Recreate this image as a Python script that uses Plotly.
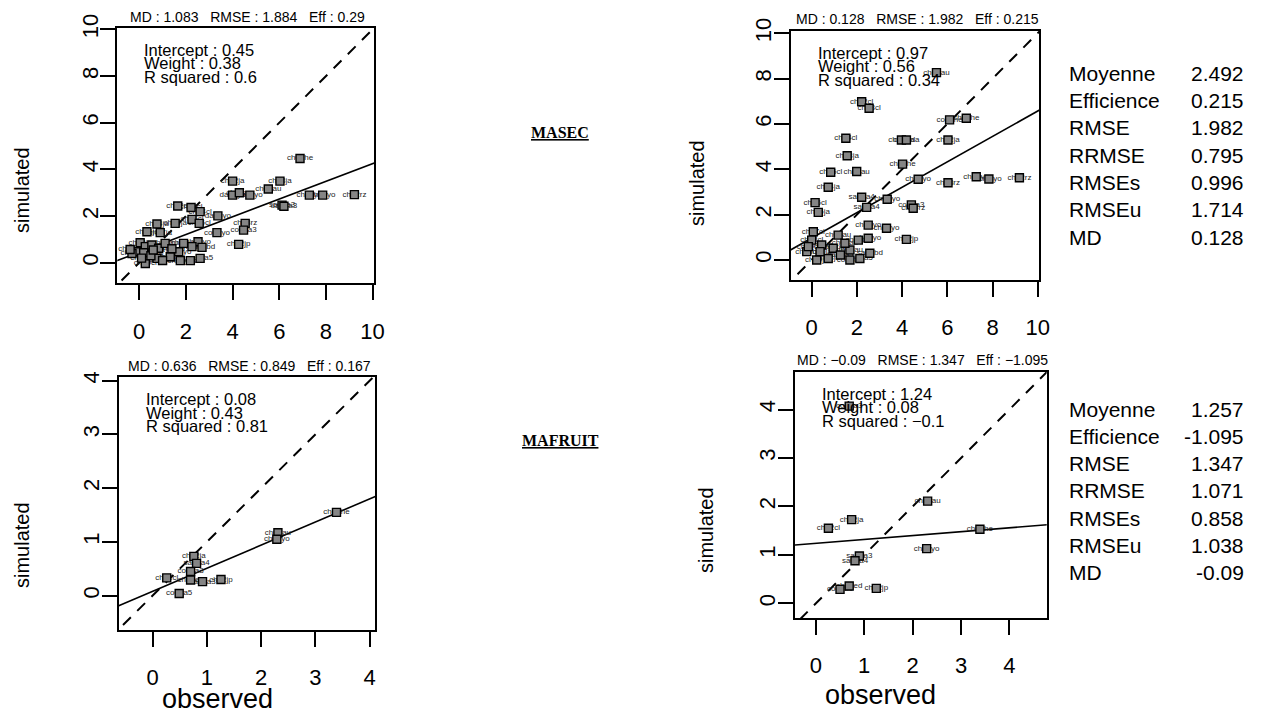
import plotly.graph_objects as go

W, H = 1263, 715
OFF = 8                      # page body margin of the browser
FW, FH = W - OFF, H - OFF    # figure size actually visible

# ---------------- data ----------------
# Panel A : MASEC, first model
p1_obs = [6.89, 4.00, 6.03, 5.53, 4.00, 4.29, 4.74, 7.29, 7.86, 9.22, 6.12, 6.20,
          1.65, 2.22, 2.61, 2.26, 2.57, 3.37, 0.76, 1.54, 0.33, 0.90, 3.33, 4.54, 4.47, 4.26,
          0.04, 0.26, -0.10, 0.19, 0.54, 0.83, 1.11, 0.76, 0.26, 1.90, 2.52, 2.69, 1.69,
          1.76, 2.19, 2.61, 1.33, -0.31, -0.39, 2.26, 0.50, 1.00, 0.10, 1.40, 0.60]
p1_sim = [4.47, 3.50, 3.50, 3.16, 2.90, 3.00, 2.90, 2.90, 2.90, 2.92, 2.47, 2.42,
          2.43, 2.37, 2.19, 1.86, 1.69, 2.01, 1.66, 1.69, 1.33, 1.29, 1.29, 1.69, 1.40, 0.79,
          0.86, 0.69, 0.47, 0.43, 0.76, 0.62, 0.83, 0.19, -0.03, 0.83, 0.90, 0.66, 0.47,
          0.09, 0.09, 0.19, 0.26, 0.40, 0.57, 0.69, 0.30, 0.10, 0.20, 0.60, 0.55]
p1_lab = ["ch02he", "ch02ja", "ch03ja", "ch02au", "da02yo", "ch03au", "ch02yo", "ch04yo", "ch03yo", "ch02rz", "sa02a3", "da03a3",
          "ch02cl", "ch03cl", "ch04cl", "ch05cl", "ch06cl", "da04yo", "ch04ja", "ch05ja", "ch06ja", "ch07ja", "co02yo", "ch03rz", "co02a3", "ch02jp",
          "ch08ja", "ch09ja", "ch07cl", "ch08cl", "ch05au", "ch06au", "ch07au", "co02a5", "ch09cl", "ch05yo", "ch06yo", "sa02bd", "ch07yo",
          "ch08yo", "co03a5", "sa02a5", "ch08au", "ch10cl", "ch10ja", "ch09yo", "co04a5", "sa03a5", "ch11cl", "ch09au", "ch11ja"]

# Panel B : MASEC, second model
p2_obs = [5.52, 2.21, 2.54, 6.10, 6.84, 1.51, 3.97, 4.19, 6.03, 1.57, 4.02, 0.84, 1.99, 4.71, 6.03,
          7.28, 7.84, 9.19, 0.73, 2.21, 2.43, 3.34, 4.41, 4.49, 0.15, 0.29, 4.19,
          2.50, 3.31, 2.50, 2.06, 1.17, 0.07, 0.00, 0.44, 0.95, 1.69, 2.57, 2.13, 1.69, 0.73,
          0.22, -0.22, -0.15, 0.37, 1.47, 1.27]
p2_sim = [8.26, 6.98, 6.69, 6.18, 6.25, 5.37, 5.29, 5.29, 5.29, 4.60, 4.23, 3.87, 3.90, 3.56, 3.41,
          3.67, 3.57, 3.63, 3.21, 2.77, 2.32, 2.68, 2.43, 2.28, 2.53, 2.10, 0.91,
          1.54, 1.40, 0.96, 0.88, 1.10, 1.25, 0.88, 0.66, 0.52, 0.44, 0.30, 0.07, 0.00, 0.07,
          0.00, 0.37, 0.59, 0.37, 0.74, 0.22]
p2_lab = ["ch02au", "ch02cl", "ch03cl", "co02he", "ch02he", "ch04cl", "ch02da", "ch03da", "ch02ja", "ch03ja", "ch03he", "ch05cl", "ch03au", "ch02yo", "ch03rz",
          "ch04yo", "ch03yo", "ch02rz", "ch04ja", "sa02a4", "sa03a4", "ch05yo", "co02a3", "ch04rz", "ch06cl", "ch05ja", "ch02jp",
          "ch06yo", "ch07yo", "ch08yo", "ch04au", "ch05au", "ch07cl", "ch08cl", "ch06ja", "ch07ja", "ch06au", "sa02bd", "co02a5", "co03a5", "ch08ja",
          "ch09ja", "ch09cl", "ch10cl", "ch10ja", "ch07au", "sa03a5"]

# Panel C : MAFRUIT, first model
p3_obs = [3.39, 2.31, 2.29, 0.76, 0.81, 0.70, 0.26, 0.70, 0.92, 1.26, 0.49]
p3_sim = [1.55, 1.17, 1.05, 0.73, 0.60, 0.45, 0.33, 0.29, 0.26, 0.30, 0.04]
p3_lab = ["ch02he", "ch02au", "ch02yo", "ch02ja", "sa02a4", "co02a3", "ch02cl", "ch02ed", "sa02a3", "ch02jp", "co02a5"]

# Panel D : MAFRUIT, second model
p4_obs = [0.69, 2.31, 0.74, 0.26, 3.39, 2.29, 0.90, 0.81, 0.50, 0.69, 1.25]
p4_sim = [4.07, 2.11, 1.73, 1.55, 1.53, 1.13, 0.98, 0.88, 0.29, 0.36, 0.31]
p4_lab = ["co02a3", "ch02au", "ch02ja", "ch02cl", "ch02he", "ch02yo", "sa02a3", "sa02a4", "co02a5", "ch02ed", "ch02jp"]

# regression (intercept, weight, R squared) and headline statistics
reg_intercept = [0.45, 0.97, 0.08, 1.24]
reg_weight = [0.38, 0.56, 0.43, 0.08]
reg_r2 = ["0.6", "0.34", "0.81", "\u22120.1"]
head_md = ["1.083", "0.128", "0.636", "\u22120.09"]
head_rmse = ["1.884", "1.982", "0.849", "1.347"]
head_eff = ["0.29", "0.215", "0.167", "\u22121.095"]

ticks_big = [0, 2, 4, 6, 8, 10]
ticks_small = [0, 1, 2, 3, 4]

stat_names = ["Moyenne", "Efficience", "RMSE", "RRMSE", "RMSEs", "RMSEu", "MD"]
stat_masec = ["2.492", "0.215", "1.982", "0.795", "0.996", "1.714", "0.128"]
stat_mafruit = ["1.257", "-1.095", "1.347", "1.071", "0.858", "1.038", "-0.09"]

groups = ["MASEC", "MAFRUIT"]

# ---------------- layout helpers (page pixels -> paper fractions) ----------------
def PX(x):
    return (x - OFF) / FW

def PY(y):
    return 1 - (y - OFF) / FH

panels = [
    dict(obs=p1_obs, sim=p1_sim, lab=p1_lab, box=(117.3, 374.0, 28.0, 283.3),
         xr=[-0.94, 10.06], yr=[-0.88, 10.06], ticks=ticks_big),
    dict(obs=p2_obs, sim=p2_sim, lab=p2_lab, box=(790.7, 1039.3, 30.7, 280.0),
         xr=[-0.93, 10.07], yr=[-0.88, 10.11], ticks=ticks_big),
    dict(obs=p3_obs, sim=p3_sim, lab=p3_lab, box=(119.0, 375.0, 377.0, 630.0),
         xr=[-0.62, 4.10], yr=[-0.64, 4.07], ticks=ticks_small),
    dict(obs=p4_obs, sim=p4_sim, lab=p4_lab, box=(795.0, 1046.7, 371.7, 618.0),
         xr=[-0.43, 4.77], yr=[-0.30, 4.78], ticks=ticks_small),
]

FONT = "Liberation Sans, Arial, Helvetica, sans-serif"
fig = go.Figure()
layout = dict(
    width=FW, height=FH, autosize=False,
    margin=dict(l=0, r=0, t=0, b=0, pad=0, autoexpand=False),
    paper_bgcolor="white", plot_bgcolor="white", showlegend=False,
    font=dict(family=FONT, color="black"),
)
annotations = []

for i, p in enumerate(panels):
    n = "" if i == 0 else str(i + 1)
    xa, ya = "x" + n, "y" + n
    x0, x1, y0, y1 = p["box"]
    axis_common = dict(
        showgrid=False, zeroline=False, showline=True, mirror=True, automargin=False,
        linecolor="black", linewidth=2, ticks="outside", ticklen=15,
        tickwidth=2, tickcolor="black", tickfont=dict(size=22, family=FONT),
        tickvals=p["ticks"], ticktext=[str(t) for t in p["ticks"]],
    )
    layout["xaxis" + n] = dict(axis_common, domain=[PX(x0), PX(x1)], range=p["xr"],
                               anchor=ya, ticklabelstandoff=12)
    layout["yaxis" + n] = dict(axis_common, domain=[PY(y1), PY(y0)], range=p["yr"],
                               anchor=xa, tickangle=-90, ticklabelstandoff=-6)

    # 1:1 dashed line
    lo, hi = -5, 15
    fig.add_trace(go.Scatter(x=[lo, hi], y=[lo, hi], mode="lines", xaxis=xa, yaxis=ya,
                             line=dict(color="black", width=2, dash="11px,9px"),
                             hoverinfo="skip"))
    # regression line
    a, b = reg_intercept[i], reg_weight[i]
    fig.add_trace(go.Scatter(x=[lo, hi], y=[a + b * lo, a + b * hi], mode="lines",
                             xaxis=xa, yaxis=ya, line=dict(color="black", width=1.6),
                             hoverinfo="skip"))
    # point labels (drawn below the squares)
    fig.add_trace(go.Scatter(x=p["obs"], y=p["sim"], text=p["lab"], mode="text",
                             xaxis=xa, yaxis=ya, textposition="middle center",
                             textfont=dict(size=8, color="#222222", family=FONT),
                             hoverinfo="skip"))
    # points
    fig.add_trace(go.Scatter(x=p["obs"], y=p["sim"], mode="markers", xaxis=xa, yaxis=ya,
                             marker=dict(symbol="square", size=8, color="#858585",
                                         line=dict(color="black", width=1.4))))

    # headline title
    annotations.append(dict(
        x=PX((x0 + x1) / 2 + 2), y=PY(y0 - 11.5), xref="paper", yref="paper",
        text=f"MD : {head_md[i]}   RMSE : {head_rmse[i]}   Eff : {head_eff[i]}",
        showarrow=False, font=dict(size=14, family=FONT), xanchor="center", yanchor="middle"))
    # regression text
    lines = [f"Intercept : {reg_intercept[i]}", f"Weight : {reg_weight[i]}",
             f"R squared : {reg_r2[i]}"]
    for k, t in enumerate(lines):
        annotations.append(dict(
            x=PX(x0 + 25), y=PY(y0 + 22 + 13.5 * k), xref="paper", yref="paper", text=t,
            showarrow=False, font=dict(size=16.5, family=FONT), xanchor="left", yanchor="middle"))

# axis titles
for (xx, yy) in [(22, 190), (697, 183), (22, 545), (706, 530)]:
    annotations.append(dict(x=PX(xx), y=PY(yy), xref="paper", yref="paper", text="simulated",
                            textangle=-90, showarrow=False, font=dict(size=20, family=FONT),
                            xanchor="center", yanchor="middle"))
for (xx, yy) in [(217, 699), (880, 695)]:
    annotations.append(dict(x=PX(xx), y=PY(yy), xref="paper", yref="paper", text="observed",
                            showarrow=False, font=dict(size=27, family=FONT),
                            xanchor="center", yanchor="middle"))

# group labels
for g, yy in zip(groups, [132, 440]):
    annotations.append(dict(x=PX(560), y=PY(yy), xref="paper", yref="paper",
                            text=f"<b><u>{g}</u></b>", showarrow=False,
                            font=dict(size=16, family="Liberation Serif, Times New Roman, serif"),
                            xanchor="center", yanchor="middle"))

# statistics tables
for vals, ytop in [(stat_masec, 73.3), (stat_mafruit, 409.0)]:
    for k, (nm, v) in enumerate(zip(stat_names, vals)):
        yy = ytop + 27.3 * k
        annotations.append(dict(x=PX(1067), y=PY(yy), xref="paper", yref="paper", text=nm,
                                showarrow=False, font=dict(size=21, family=FONT),
                                xanchor="left", yanchor="middle"))
        annotations.append(dict(x=PX(1246), y=PY(yy), xref="paper", yref="paper", text=v,
                                showarrow=False, font=dict(size=21, family=FONT),
                                xanchor="right", yanchor="middle"))

layout["annotations"] = annotations
fig.update_layout(**layout)
fig.write_html("out.html")
